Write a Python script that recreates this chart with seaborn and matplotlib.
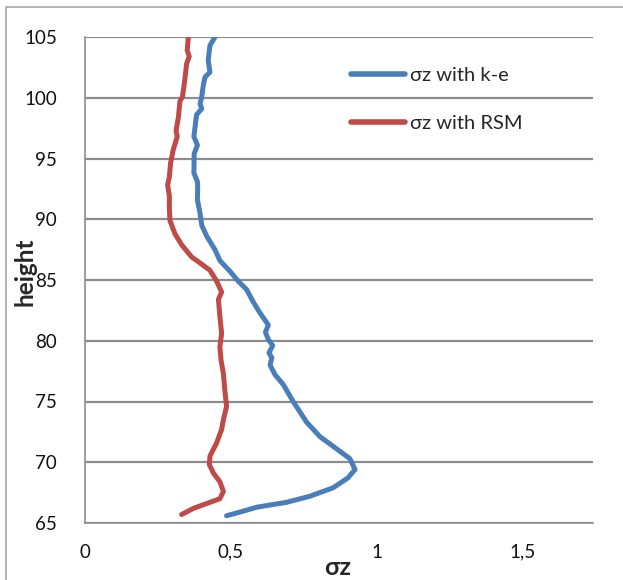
import numpy as np
import pandas as pd
import matplotlib
matplotlib.use("Agg")
import matplotlib.pyplot as plt
import seaborn as sns
from matplotlib.patches import Rectangle
from matplotlib.ticker import FuncFormatter

# sigma z profile, k-e model (height, sigma z)
ke_height = [65.6, 65.9, 66.3, 66.7, 67.2, 67.9, 68.7, 69.4, 70.3, 71.1, 72.1, 73.3,
             75.0, 76.4, 77.2, 78.0, 78.6, 79.0, 79.6, 80.1, 80.7, 81.3, 82.3, 83.2,
             84.2, 84.9, 85.7, 86.6, 87.5, 88.6, 89.5, 90.5, 91.6, 92.5, 93.1, 93.8,
             95.4, 96.1, 96.8, 98.6, 99.1, 99.5, 100.1, 101.0, 101.7, 102.1, 103.1,
             104.3, 105.0]
ke_sigma = [0.485, 0.531, 0.588, 0.690, 0.770, 0.850, 0.900, 0.925, 0.907, 0.862, 0.805,
            0.759, 0.713, 0.679, 0.651, 0.634, 0.640, 0.630, 0.643, 0.628, 0.618, 0.628,
            0.599, 0.576, 0.554, 0.525, 0.497, 0.462, 0.445, 0.417, 0.400, 0.394, 0.385,
            0.386, 0.385, 0.373, 0.374, 0.385, 0.373, 0.382, 0.400, 0.394, 0.400, 0.405,
            0.411, 0.428, 0.422, 0.428, 0.445]

# sigma z profile, RSM model
rsm_height = [65.7, 66.2, 66.7, 67.0, 67.6, 68.4, 69.1, 69.8, 70.5, 71.6, 72.7, 73.5,
              74.6, 75.9, 77.3, 78.4, 79.5, 80.6, 82.0, 83.4, 84.0, 84.9, 85.8, 86.4,
              86.9, 87.9, 88.8, 89.9, 90.9, 91.9, 92.8, 93.5, 94.6, 95.7, 96.8, 97.3,
              98.4, 99.7, 100.1, 101.5, 102.8, 103.4, 103.9, 105.0]
rsm_sigma = [0.331, 0.371, 0.428, 0.462, 0.474, 0.462, 0.440, 0.426, 0.428, 0.451, 0.468,
             0.474, 0.485, 0.479, 0.474, 0.466, 0.462, 0.468, 0.462, 0.457, 0.468, 0.451,
             0.428, 0.394, 0.365, 0.331, 0.308, 0.291, 0.289, 0.289, 0.283, 0.289, 0.293,
             0.302, 0.316, 0.312, 0.320, 0.325, 0.334, 0.342, 0.348, 0.357, 0.350, 0.354]

series_names = ["σz with k-e", "σz with RSM"]
x_ticks = [0, 0.5, 1, 1.5]
y_ticks = [65, 70, 75, 80, 85, 90, 95, 100, 105]

df = pd.concat([
    pd.DataFrame({"sigma": ke_sigma, "height": ke_height, "series": series_names[0]}),
    pd.DataFrame({"sigma": rsm_sigma, "height": rsm_height, "series": series_names[1]}),
])

sns.set_style("white")
plt.rcParams["font.family"] = ["Lato", "DejaVu Sans"]

fig = plt.figure(figsize=(6.23, 5.80), dpi=100)
ax = fig.add_axes([85 / 623, 1 - 523 / 580, 508 / 623, 486 / 580])

sns.lineplot(data=df, x="sigma", y="height", hue="series", sort=False,
             estimator=None, orient="y", palette=["#4a7ebb", "#be4b48"],
             linewidth=3.6, ax=ax)
for line in ax.lines:
    line.set_solid_capstyle("round")

ax.set_xlim(0, 1.74)
ax.set_ylim(65, 105)
ax.set_xticks(x_ticks)
ax.set_yticks(y_ticks)
ax.xaxis.set_major_formatter(FuncFormatter(lambda v, p: f"{v:g}".replace(".", ",")))
ax.tick_params(axis="both", length=0, labelsize=13.5, labelcolor="#111111")
ax.tick_params(axis="x", pad=15)
ax.tick_params(axis="y", pad=20)
ax.grid(axis="y", color="#8c8c8c", linewidth=1.6)
ax.grid(axis="x", visible=False)
for s in ["top", "right"]:
    ax.spines[s].set_visible(False)
for s in ["left", "bottom"]:
    ax.spines[s].set_color("#8c8c8c")
    ax.spines[s].set_linewidth(1.2)

ax.set_xlabel("σz", fontsize=18, fontweight="bold", va="center", ha="center")
ax.set_ylabel("height", fontsize=17.5, fontweight="bold", va="center", ha="center")
ax.xaxis.set_label_coords(0.498, -0.092)
ax.yaxis.set_label_coords(-0.119, 0.516)

leg = ax.legend(loc="upper left", bbox_to_anchor=(0.503, 0.959), frameon=False,
                fontsize=14.5, handlelength=2.7, handletextpad=0.25,
                labelspacing=1.55, borderpad=0)
for h in leg.get_lines():
    h.set_linewidth(4)
    h.set_solid_capstyle("round")

fig.add_artist(Rectangle((6 / 623, -0.1), 1.0, 0.1 + (580 - 7) / 580,
                         transform=fig.transFigure, fill=False,
                         edgecolor="#a6a6a6", linewidth=1.2))

fig.savefig("out.png", dpi=100)
